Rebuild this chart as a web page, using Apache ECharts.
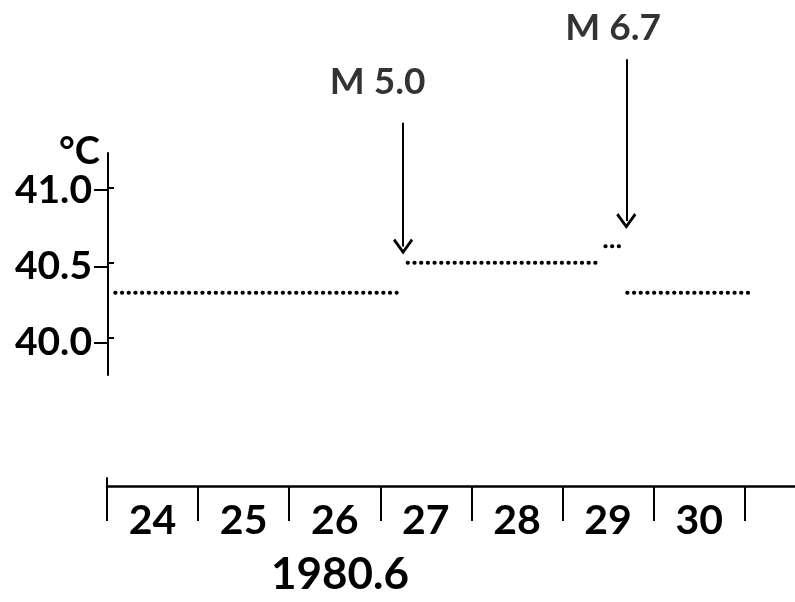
<!DOCTYPE html>
<html><head><meta charset="utf-8">
<script src="https://cdn.jsdelivr.net/npm/echarts@6/dist/echarts.min.js"></script>
<style>html,body{margin:0;padding:0;background:#fff}#c{width:795px;height:602px}</style>
</head><body><div id="c"></div>
<script>
// ---- data ----
const dayTicks = [24, 25, 26, 27, 28, 29, 30, 31];
const dayLabels = ['24', '25', '26', '27', '28', '29', '30'];
const tempTicks = [40.0, 40.5, 41.0];
const tempLabels = ['40.0', '40.5', '41.0'];
// dotted temperature segments (day of June 1980, °C)
const segStart = [24.09, 27.30, 29.47, 29.71];
const segEnd   = [27.18, 29.41, 29.65, 31.06];
const segTemp  = [40.30, 40.50, 40.61, 40.30];
// earthquakes
const quakeNames = ['M 5.0', 'M 6.7'];
const quakeDay   = [27.25, 29.70];
const arrowFrom  = [41.43, 41.85];
const arrowTo    = [40.607, 40.777];
const labelDay   = [26.97, 29.555];
const labelTemp  = [41.70, 42.06];
const xName = '1980.6';
const yName = '°C';

const FONT = 'Lato';
const WEIGHT = 'bold';
const chevron = 'path://M0,13 L10,0 L20,13 L18,15 L10,4.5 L2,15 Z';

const chart = echarts.init(document.getElementById('c'), null, {renderer: 'canvas'});

const segSeries = segStart.map((s, i) => ({
  type: 'line', xAxisIndex: 0, yAxisIndex: 0,
  data: [[s, segTemp[i]], [segEnd[i], segTemp[i]]],
  symbol: 'none', silent: true,
  lineStyle: {color: '#000', width: 4, type: [0.3, 6.4], cap: 'round'}
}));

const option = {
  animation: false,
  backgroundColor: '#fff',
  grid: [
    {left: 107, right: 0, top: 0, bottom: 109.3},
    {left: 108, right: 0, top: 153, bottom: 227},
    {left: 107, right: 0, top: 478, bottom: 109.3}
  ],
  xAxis: [
    {
      gridIndex: 0, type: 'value', min: 24, max: 31.552,
      axisLine: {show: true, lineStyle: {color: '#000', width: 2.5}},
      axisTick: {show: true, inside: false, length: 35, customValues: dayTicks, lineStyle: {color: '#000', width: 2}},
      axisLabel: {
        show: true, customValues: dayLabels.map(d => Number(d) + 0.5),
        formatter: v => dayLabels[Math.floor(v) - 24],
        color: '#000', fontFamily: FONT, fontWeight: WEIGHT, fontSize: 41, margin: 14
      },
      splitLine: {show: false},
      name: xName, nameLocation: 'middle', nameGap: 67,
      nameTextStyle: {color: '#000', fontFamily: FONT, fontWeight: WEIGHT, fontSize: 44, padding: [0, 222, 0, 0]}
    },
    {gridIndex: 1, type: 'value', min: 24, max: 31.552, show: false},
    {gridIndex: 2, type: 'value', min: 24, max: 31.552, show: false}
  ],
  yAxis: [
    {
      gridIndex: 0, type: 'value', min: 39.018, max: 42.244,
      axisLine: {show: false},
      axisTick: {show: true, inside: true, length: 7, customValues: tempTicks, lineStyle: {color: '#000', width: 2}},
      axisLabel: {show: false},
      splitLine: {show: false}
    },
    {
      gridIndex: 1, type: 'value', min: 39.7885, max: 41.2423,
      axisLine: {show: true, lineStyle: {color: '#000', width: 2}},
      axisTick: {show: true, inside: false, length: 14, customValues: tempTicks, lineStyle: {color: '#000', width: 2}},
      axisLabel: {
        show: true, customValues: tempTicks,
        formatter: v => tempLabels[tempTicks.findIndex(t => Math.abs(t - v) < 1e-6)],
        color: '#000', fontFamily: FONT, fontWeight: WEIGHT, fontSize: 39, margin: 16
      },
      splitLine: {show: false},
      name: yName, nameLocation: 'end', nameGap: -25,
      nameTextStyle: {color: '#000', fontFamily: FONT, fontWeight: WEIGHT, fontSize: 38, align: 'right', verticalAlign: 'bottom', padding: [0, 8, 0, 0]}
    },
    {
      gridIndex: 2, type: 'value', min: 0, max: 1,
      axisLine: {show: true, lineStyle: {color: '#000', width: 2}},
      axisTick: {show: false}, axisLabel: {show: false}, splitLine: {show: false}
    }
  ],
  series: segSeries.concat([{
    type: 'scatter', xAxisIndex: 0, yAxisIndex: 0,
    data: labelDay.map((d, i) => ({name: quakeNames[i], value: [d, labelTemp[i]]})),
    symbolSize: 0, silent: true,
    label: {show: true, position: 'inside', formatter: '{b}', color: '#000', fontFamily: FONT, fontWeight: WEIGHT, fontSize: 37},
    emphasis: {disabled: true},
    markLine: {
      silent: true, animation: false,
      symbol: ['none', chevron], symbolSize: [20, 16],
      lineStyle: {color: '#000', width: 2, type: 'solid'},
      label: {show: false},
      emphasis: {disabled: true},
      data: quakeDay.map((d, i) => [{coord: [d, arrowFrom[i]]}, {coord: [d, arrowTo[i]]}])
    }
  }])
};
chart.setOption(option);
</script>
</body></html>
